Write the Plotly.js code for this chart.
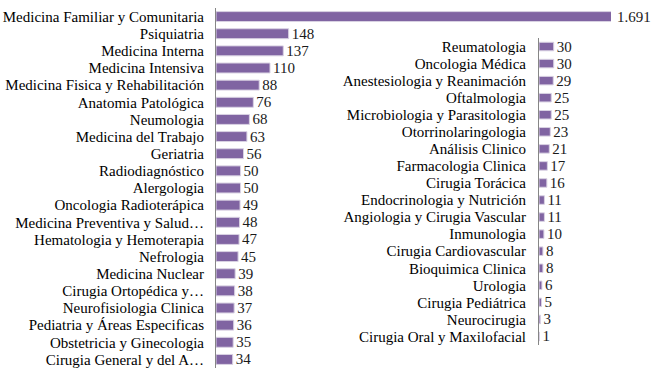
<!DOCTYPE html>
<html><head><meta charset="utf-8">
<script src="https://cdn.plot.ly/plotly-3.0.1.min.js"></script>
<style>html,body{margin:0;padding:0;background:#fff}</style>
</head><body><div id="chart" style="width:656px;height:378px"></div>
<script>
const leftCategories = ["Medicina Familiar y Comunitaria","Psiquiatria","Medicina Interna","Medicina Intensiva","Medicina Fisica y Rehabilitación","Anatomia Patológica","Neumologia","Medicina del Trabajo","Geriatria","Radiodiagnóstico","Alergologia","Oncologia Radioterápica","Medicina Preventiva y Salud…","Hematologia y Hemoterapia","Nefrologia","Medicina Nuclear","Cirugia Ortopédica y…","Neurofisiologia Clinica","Pediatria y Áreas Especificas","Obstetricia y Ginecologia","Cirugia General y del A…"];
const leftValues = [1691,148,137,110,88,76,68,63,56,50,50,49,48,47,45,39,38,37,36,35,34];
const rightCategories = ["Reumatologia","Oncologia Médica","Anestesiologia y Reanimación","Oftalmologia","Microbiologia y Parasitologia","Otorrinolaringologia","Análisis Clinico","Farmacologia Clinica","Cirugia Torácica","Endocrinologia y Nutrición","Angiologia y Cirugia Vascular","Inmunologia","Cirugia Cardiovascular","Bioquimica Clinica","Urologia","Cirugia Pediátrica","Neurocirugia","Cirugia Oral y Maxilofacial"];
const rightValues = [30,30,29,25,25,23,21,17,16,11,11,10,8,8,6,5,3,1];

const W = 656, H = 378;
const pxPerUnit = 0.491;
const leftX0 = 216, leftX1 = 611, leftTop = 8, leftBottom = 368;
const rightX0 = 539, rightX1 = 656, rightTop = 38, rightBottom = 345;
const leftMax = (leftX1 - leftX0) / pxPerUnit;
const rightMax = (rightX1 - rightX0) / pxPerUnit;

const FONT = 'Times New Roman';
const barColor = '#8064A2';
const fmt = v => v.toLocaleString('de-DE');

const traces = [
  {
    type: 'bar', orientation: 'h', x: leftValues, y: leftCategories,
    xaxis: 'x', yaxis: 'y', width: 0.58,
    marker: {color: barColor, line: {color: '#d9d2e3', width: 1}},
    text: leftValues.map(v => v > leftMax ? '' : fmt(v)),
    textposition: 'outside', constraintext: 'none',
    textfont: {family: FONT, size: 15, color: '#1a1a1a'},
    hoverinfo: 'none', cliponaxis: true
  },
  {
    type: 'bar', orientation: 'h', x: rightValues, y: rightCategories,
    xaxis: 'x2', yaxis: 'y2', width: 0.5,
    marker: {color: barColor, line: {color: '#d9d2e3', width: 1}},
    text: rightValues.map(fmt),
    textposition: 'outside', constraintext: 'none',
    textfont: {family: 'serif', size: 15, color: '#1a1a1a'},
    hoverinfo: 'none', cliponaxis: false
  }
];

const annotations = leftValues.map((v, i) => v > leftMax ? {
  xref: 'x domain', yref: 'y', x: 1, y: leftCategories[i], text: fmt(v),
  xanchor: 'left', yanchor: 'middle', xshift: 4, showarrow: false,
  font: {family: FONT, size: 15, color: '#1a1a1a'}
} : null).filter(a => a);

const layout = {
  width: W, height: H, margin: {l: 0, r: 0, t: 0, b: 0},
  paper_bgcolor: '#fff', plot_bgcolor: 'rgba(0,0,0,0)',
  showlegend: false,
  font: {family: FONT, size: 15, color: '#000'},
  xaxis: {domain: [leftX0 / W, leftX1 / W], range: [0, leftMax], visible: false, fixedrange: true},
  yaxis: {domain: [1 - leftBottom / H, 1 - leftTop / H], range: [leftCategories.length - 0.5, -0.5],
          type: 'category', showline: true, linecolor: '#868686', linewidth: 1, showgrid: false,
          zeroline: false, ticks: '', ticklabelstandoff: 8, anchor: 'x', dtick: 1,
          tickfont: {family: FONT, size: 15, color: '#000'}},
  xaxis2: {domain: [rightX0 / W, rightX1 / W], range: [0, rightMax], visible: false, fixedrange: true, anchor: 'y2'},
  yaxis2: {domain: [1 - rightBottom / H, 1 - rightTop / H], range: [rightCategories.length - 0.5, -0.5],
           type: 'category', showline: true, linecolor: '#868686', linewidth: 1, showgrid: false,
           zeroline: false, ticks: '', ticklabelstandoff: 9, anchor: 'x2', dtick: 1,
           tickfont: {family: 'serif', size: 15, color: '#000'}},
  annotations: annotations
};

Plotly.newPlot('chart', traces, layout, {staticPlot: true, displayModeBar: false});
</script>
</body></html>
